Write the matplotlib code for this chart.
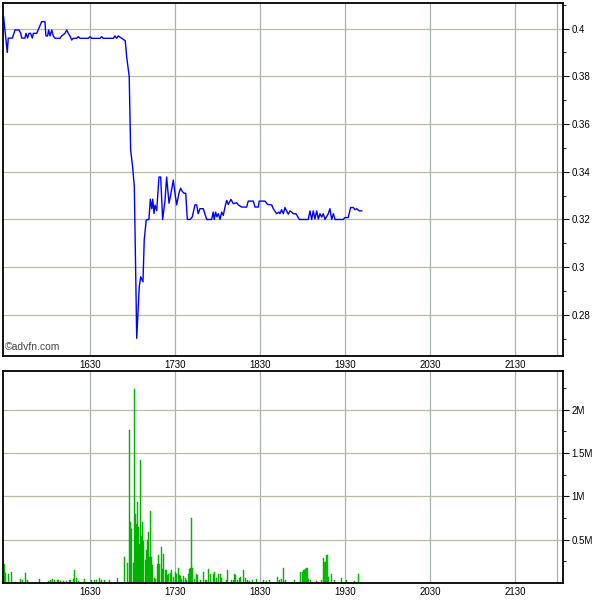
import matplotlib
matplotlib.use("Agg")
import matplotlib.pyplot as plt
from matplotlib.ticker import FixedLocator, MultipleLocator

plt.rcParams['font.family'] = ['Liberation Sans', 'DejaVu Sans']

# time is minutes after 15:30
price_t = [-1.0, 1.6, 2.3, 5.2, 7.1, 9.9, 11.1, 11.8, 14.1, 14.8, 16.0, 16.9, 18.1, 19.3, 20.0,
           22.4, 25.9, 28.2, 28.9, 30.1, 30.8, 31.8, 33.0, 34.1, 35.3, 38.8, 40.0, 42.4, 43.6,
           44.7, 45.9, 47.1, 48.2, 50.6, 51.7, 52.9, 58.8, 60.0, 61.2, 67.1, 68.3, 69.4, 76.5,
           77.6, 78.8, 80.0, 82.4, 84.0, 84.9, 85.9, 87.7, 88.7, 90.1, 91.3, 93.0, 94.8, 95.8,
           97.4, 98.3, 99.7, 101.6, 102.6, 103.6, 104.3, 105.2, 105.9, 107.1, 108.7, 109.9,
           111.3, 113.0, 114.1, 115.8, 117.2, 118.8, 120.0, 121.2, 122.8, 124.0, 125.2, 126.4,
           127.6, 128.7, 130.6, 132.2, 134.1, 135.3, 136.4, 137.6, 140.0, 142.4, 145.9, 147.0,
           147.7, 148.7, 149.6, 150.6, 151.8, 153.0, 154.1, 155.3, 156.5, 157.6, 159.5, 161.2,
           163.6, 164.7, 167.1, 170.6, 171.7, 175.3, 176.5, 178.8, 179.5, 183.5, 185.4, 188.3,
           189.4, 191.8, 193.4, 194.1, 195.3, 196.5, 197.6, 198.8, 200.0, 201.2, 202.4, 203.5,
           205.4, 207.8, 214.1, 215.3, 216.5, 217.6, 218.8, 220.0, 221.2, 222.4, 223.6, 224.7,
           225.9, 228.2, 229.4, 230.6, 231.8, 233.0, 238.8, 240.0, 242.3, 244.0, 245.9, 247.1,
           248.3, 250.1, 251.8]
price = [0.405, 0.390, 0.396, 0.396, 0.3994, 0.3994, 0.398, 0.396, 0.396, 0.398, 0.396, 0.398,
         0.398, 0.396, 0.398, 0.398, 0.4029, 0.4029, 0.3969, 0.3969, 0.3994, 0.3969, 0.3994,
         0.3969, 0.3959, 0.3959, 0.3969, 0.398, 0.3994, 0.398, 0.3969, 0.3952, 0.3959, 0.3959,
         0.3966, 0.3959, 0.3959, 0.3966, 0.3959, 0.3959, 0.3966, 0.3959, 0.3959, 0.3969, 0.3959,
         0.3969, 0.3959, 0.3952, 0.3949, 0.3882, 0.3798, 0.3491, 0.3421, 0.3337, 0.2702, 0.2918,
         0.296, 0.2939, 0.3114, 0.3198, 0.32, 0.3285, 0.3245, 0.3285, 0.3225, 0.326, 0.3237,
         0.3378, 0.3378, 0.32, 0.3282, 0.3378, 0.3268, 0.331, 0.3365, 0.331, 0.3261, 0.331,
         0.3331, 0.3317, 0.331, 0.331, 0.32, 0.32, 0.321, 0.3261, 0.3261, 0.3224, 0.3245, 0.3245,
         0.32, 0.32, 0.3231, 0.32, 0.3231, 0.3211, 0.3224, 0.32, 0.3231, 0.3217, 0.3252, 0.328,
         0.3263, 0.3284, 0.3266, 0.327, 0.3261, 0.3252, 0.3252, 0.3277, 0.3277, 0.3252, 0.3252,
         0.3277, 0.3277, 0.3263, 0.3261, 0.3245, 0.3224, 0.3231, 0.3224, 0.3241, 0.3224, 0.325,
         0.3236, 0.3222, 0.3236, 0.3231, 0.3224, 0.3224, 0.32, 0.32, 0.3236, 0.32, 0.3236,
         0.3202, 0.3236, 0.3202, 0.3224, 0.321, 0.3224, 0.32, 0.3224, 0.3245, 0.32, 0.3224, 0.32,
         0.32, 0.3208, 0.3208, 0.325, 0.325, 0.3241, 0.3245, 0.3236, 0.3236]

vol_t = [-0.5, 0.5, 2.7, 4.9, 7.6, 10.8, 12.4, 14.6, 15.7, 24.3, 30.5, 31.9, 33.8, 35.1, 36.8,
         37.8, 39.5, 41.4, 43.2, 45.9, 48.1, 49.2, 50.3, 51.9, 56.2, 61.1, 63.0, 64.3, 67.0,
         68.4, 70.3, 73.8, 79.2, 84.6, 86.8, 87.6, 88.6, 89.5, 90.5, 91.6, 92.2, 93.0, 93.8,
         94.3, 95.1, 95.9, 96.5, 97.3, 98.1, 98.9, 100.0, 100.8, 101.6, 102.2, 103.0, 103.5,
         104.3, 105.4, 106.2, 107.6, 108.4, 109.2, 110.3, 111.1, 112.2, 113.0, 114.1, 114.9,
         115.7, 116.8, 117.8, 118.9, 120.3, 121.1, 122.2, 123.0, 123.8, 124.9, 125.9, 127.3,
         128.4, 129.5, 130.3, 131.1, 131.9, 132.4, 134.1, 135.1, 136.2, 137.8, 140.0, 141.9,
         143.8, 145.4, 147.0, 148.1, 149.5, 150.8, 151.9, 153.0, 156.2, 157.3, 159.7, 161.1,
         161.9, 162.7, 164.3, 165.4, 166.5, 168.6, 169.7, 171.1, 172.4, 174.6, 177.3, 182.7,
         184.6, 186.8, 192.7, 193.5, 194.9, 196.8, 198.1, 204.3, 208.4, 209.7, 211.1, 212.4,
         213.2, 214.3, 215.7, 219.7, 223.2, 225.1, 225.9, 227.3, 228.1, 230.8, 232.4, 237.3,
         241.4, 246.8, 249.5]
volume = [0.223, 0.115, 0.108, 0.123, 0.012, 0.05, 0.038, 0.115, 0.031, 0.042, 0.023, 0.031,
          0.042, 0.031, 0.038, 0.038, 0.023, 0.023, 0.023, 0.031, 0.05, 0.146, 0.062, 0.023,
          0.042, 0.031, 0.031, 0.031, 0.062, 0.038, 0.031, 0.031, 0.062, 0.3, 0.231, 1.762,
          0.704, 0.627, 0.231, 2.235, 0.8, 0.685, 0.931, 0.646, 0.454, 1.415, 0.538, 0.704,
          0.485, 0.262, 0.377, 0.492, 0.592, 0.3, 0.827, 0.3, 0.204, 0.062, 0.05, 0.223, 0.319,
          0.223, 0.412, 0.165, 0.331, 0.146, 0.154, 0.088, 0.1, 0.119, 0.146, 0.069, 0.127, 0.1,
          0.177, 0.088, 0.077, 0.05, 0.077, 0.062, 0.031, 0.108, 0.165, 0.177, 0.746, 0.177,
          0.05, 0.1, 0.088, 0.031, 0.127, 0.031, 0.165, 0.108, 0.1, 0.127, 0.062, 0.1, 0.108,
          0.062, 0.031, 0.146, 0.031, 0.038, 0.108, 0.088, 0.031, 0.062, 0.069, 0.146, 0.062,
          0.031, 0.023, 0.031, 0.05, 0.038, 0.023, 0.031, 0.069, 0.031, 0.05, 0.169, 0.031,
          0.038, 0.131, 0.131, 0.146, 0.162, 0.169, 0.05, 0.038, 0.023, 0.031, 0.292, 0.238,
          0.319, 0.069, 0.1, 0.031, 0.062, 0.038, 0.023, 0.108]

x_ticks = [60, 120, 180, 240, 300, 360, 390]
x_labels = ['1630', '1730', '1830', '1930', '2030', '2130', '']
price_ticks = [0.28, 0.30, 0.32, 0.34, 0.36, 0.38, 0.40]
price_labels = ['0.28', '0.3', '0.32', '0.34', '0.36', '0.38', '0.4']
vol_ticks = [0.5, 1.0, 1.5, 2.0]
vol_labels = ['0.5M', '1M', '1.5M', '2M']

fig = plt.figure(figsize=(6, 6), dpi=100)
ax1 = fig.add_axes([0.005, 0.4067, 0.934, 0.5883])
ax2 = fig.add_axes([0.005, 0.0283, 0.934, 0.3534])

for ax in (ax1, ax2):
    ax.set_xlim(-1.4, 394.2)
    ax.set_xticks(x_ticks)
    ax.set_xticklabels(x_labels)
    ax.tick_params(axis='x', length=0, labelsize=7, pad=3)
    ax.yaxis.tick_right()
    ax.tick_params(axis='y', which='both', direction='out', labelsize=7, pad=2)
    ax.tick_params(axis='y', which='major', length=4)
    ax.tick_params(axis='y', which='minor', length=2)
    for s in ax.spines.values():
        s.set_linewidth(1.3)
        s.set_color('black')
    ax.grid(True, axis='x', color='#a9b2b2', linewidth=0.9)
    ax.grid(True, axis='y', color='#bcbca4', linewidth=0.9)
    ax.set_axisbelow(True)

ax1.plot(price_t, price, color='#0000ff', linewidth=1.0)
ax1.set_ylim(0.2628, 0.4107)
ax1.set_yticks(price_ticks)
ax1.set_yticklabels(price_labels)
ax1.yaxis.set_minor_locator(MultipleLocator(0.01))
ax1.text(0.004, 0.012, '\u00a9advfn.com', transform=ax1.transAxes, fontsize=7.5,
         color='#444444', ha='left', va='bottom')

ax2.bar(vol_t, volume, width=0.75, color='#00c800', edgecolor='#00a000', linewidth=0.3)
ax2.set_ylim(0, 2.448)
ax2.set_yticks(vol_ticks)
ax2.set_yticklabels(vol_labels)
ax2.yaxis.set_minor_locator(FixedLocator([0.25, 0.75, 1.25, 1.75, 2.25]))

fig.savefig('out.png', dpi=100)
